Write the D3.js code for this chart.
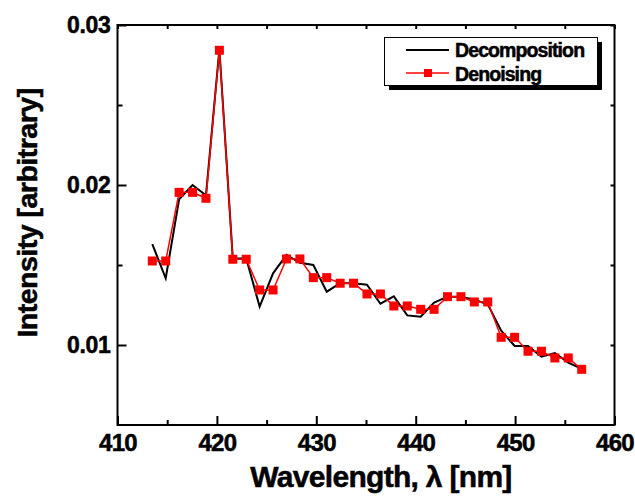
<!DOCTYPE html>
<html>
<head>
<meta charset="utf-8">
<script src="https://cdn.jsdelivr.net/npm/d3@7"></script>
<style>
  html, body { margin: 0; padding: 0; background: #fff; }
  svg { display: block; }
  text { font-family: "Liberation Sans", Arial, sans-serif; font-weight: bold; }
</style>
</head>
<body>
<svg id="chart" width="635" height="496"></svg>
<script>
// ---- data ----
const wavelength = [413.5, 414.85, 416.2, 417.55, 418.9, 420.25, 421.6, 422.95, 424.3, 425.65,
  427.0, 428.35, 429.7, 431.05, 432.4, 433.75, 435.1, 436.45, 437.8, 439.15,
  440.5, 441.85, 443.2, 444.55, 445.9, 447.25, 448.6, 449.95, 451.3, 452.65,
  454.0, 455.35, 456.7];
const decomposition = [0.01631, 0.01417, 0.01911, 0.0200, 0.01935, 0.0285, 0.0154, 0.0154, 0.0124, 0.01448,
  0.01563, 0.01514, 0.0150, 0.01333, 0.01386, 0.01386, 0.01377, 0.01258, 0.01304, 0.01185,
  0.01177, 0.01265, 0.01302, 0.01302, 0.01283, 0.01255, 0.0109, 0.00994, 0.00994, 0.00927,
  0.0095, 0.0089, 0.00851];
const denoising = [0.01525, 0.01525, 0.01954, 0.01954, 0.01917, 0.02842, 0.01536, 0.01536, 0.01344, 0.01344,
  0.01538, 0.01538, 0.01421, 0.01421, 0.01386, 0.01386, 0.01319, 0.01319, 0.01244, 0.01244,
  0.01223, 0.01223, 0.01302, 0.01302, 0.01269, 0.01269, 0.01048, 0.01048, 0.00961, 0.00961,
  0.00919, 0.00919, 0.00848];
const xMajorTicks = [410, 420, 430, 440, 450, 460];
const xMinorTicks = [415, 425, 435, 445, 455];
const yMajorTicks = [0.01, 0.02, 0.03];
const yMinorTicks = [0.015, 0.025];
const seriesNames = ["Decomposition", "Denoising"];
const xTitle = "Wavelength, λ [nm]";
const yTitle = "Intensity [arbitrary]";

// ---- layout ----
const L = 117.5, R = 614.5, T = 25, B = 425;
const svg = d3.select("#chart");
const x = d3.scaleLinear().domain([410, 460]).range([L, R]);
const y = d3.scaleLinear().domain([0.005, 0.03]).range([B, T]);

function styleAxis(g) {
  g.select(".domain").remove();
  g.selectAll(".tick line").attr("stroke", "#000").attr("stroke-width", 2);
}
function boldText(sel, size, ls) {
  sel.attr("font-size", size).attr("letter-spacing", ls).attr("fill", "#000")
    .attr("stroke", "#000").attr("stroke-width", 0.5)
    .style("font-family", '"Liberation Sans", Arial, sans-serif').style("font-weight", "bold");
}

// minor ticks
svg.append("g").attr("transform", `translate(0,${B})`)
  .call(d3.axisBottom(x).tickValues(xMinorTicks).tickSize(-5).tickFormat(""))
  .call(styleAxis);
svg.append("g").attr("transform", `translate(${L},0)`)
  .call(d3.axisLeft(y).tickValues(yMinorTicks).tickSize(-5).tickFormat(""))
  .call(styleAxis);
// major ticks + labels
const xAx = svg.append("g").attr("transform", `translate(0,${B})`)
  .call(d3.axisBottom(x).tickValues(xMajorTicks).tickSize(-9).tickPadding(9).tickFormat(d3.format("d")))
  .call(styleAxis);
xAx.selectAll("text").call(boldText, 24, -0.7);
const yAx = svg.append("g").attr("transform", `translate(${L},0)`)
  .call(d3.axisLeft(y).tickValues(yMajorTicks).tickSize(-9).tickPadding(7).tickFormat(d3.format(".2f")))
  .call(styleAxis);
yAx.selectAll("text").call(boldText, 23, -0.3);
// top and right ticks
svg.append("g").attr("transform", `translate(0,${T})`)
  .call(d3.axisTop(x).tickValues(xMajorTicks.concat(xMinorTicks)).tickSize(-4).tickFormat(""))
  .call(styleAxis);
svg.append("g").attr("transform", `translate(${R},0)`)
  .call(d3.axisRight(y).tickValues(yMajorTicks.concat(yMinorTicks)).tickSize(-4).tickFormat(""))
  .call(styleAxis);

// frame
svg.append("rect").attr("x", L).attr("y", T).attr("width", R - L).attr("height", B - T)
  .attr("fill", "none").attr("stroke", "#000").attr("stroke-width", 2);

// series
const pts = (vals) => wavelength.map((w, i) => [w, vals[i]]);
const line = d3.line().x(d => x(d[0])).y(d => y(d[1]));
svg.append("path").datum(pts(decomposition)).attr("d", line)
  .attr("fill", "none").attr("stroke", "#000").attr("stroke-width", 2).attr("stroke-linejoin", "miter");
svg.append("path").datum(pts(denoising)).attr("d", line)
  .attr("fill", "none").attr("stroke", "#ff0000").attr("stroke-width", 1.5);
svg.append("g").selectAll("rect").data(pts(denoising)).join("rect")
  .attr("x", d => x(d[0]) - 4.5).attr("y", d => y(d[1]) - 4.5)
  .attr("width", 9).attr("height", 9).attr("fill", "#ff0000");

// legend
const lg = svg.append("g");
lg.append("rect").attr("x", 389).attr("y", 42).attr("width", 213).attr("height", 48).attr("fill", "#000");
lg.append("rect").attr("x", 384.5).attr("y", 37.5).attr("width", 213).attr("height", 48)
  .attr("fill", "#fff").attr("stroke", "#000").attr("stroke-width", 1);
lg.append("line").attr("x1", 406).attr("x2", 449).attr("y1", 50).attr("y2", 50)
  .attr("stroke", "#000").attr("stroke-width", 2);
lg.append("line").attr("x1", 406).attr("x2", 449).attr("y1", 73).attr("y2", 73)
  .attr("stroke", "#ff0000").attr("stroke-width", 1.5);
lg.append("rect").attr("x", 424).attr("y", 69).attr("width", 8).attr("height", 8).attr("fill", "#ff0000");
lg.append("text").attr("x", 455).attr("y", 57).text(seriesNames[0]).call(boldText, 19.5, -0.9);
lg.append("text").attr("x", 455).attr("y", 80.5).text(seriesNames[1]).call(boldText, 19.5, -0.9);

// axis titles
svg.append("text").attr("x", 381).attr("y", 487).attr("text-anchor", "middle")
  .text(xTitle).call(boldText, 30, -0.7);
svg.append("text").attr("transform", "translate(37,213) rotate(-90)").attr("text-anchor", "middle")
  .text(yTitle).call(boldText, 28.5, -0.5);
</script>
</body>
</html>
